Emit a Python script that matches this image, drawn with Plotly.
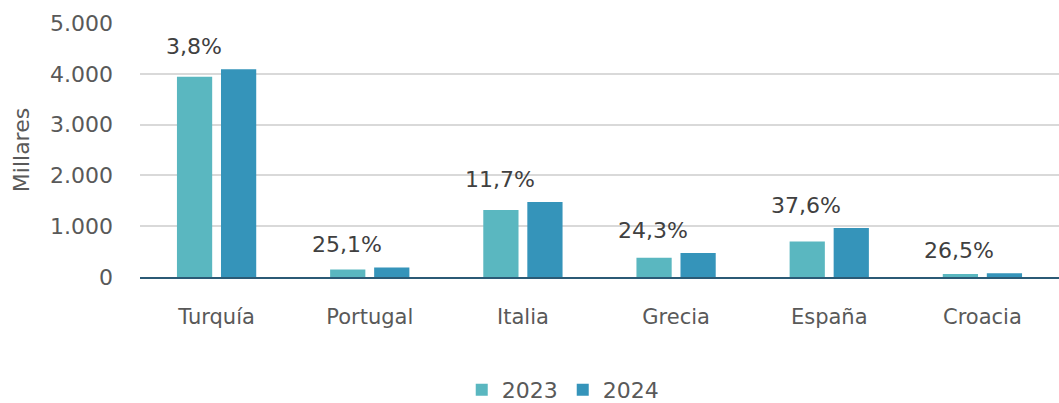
import plotly.graph_objects as go

categories = ["Turquía", "Portugal", "Italia", "Grecia", "España", "Croacia"]
values_2023 = [3940, 150, 1320, 380, 700, 60]
values_2024 = [4090, 188, 1475, 472, 963, 76]
growth_labels = ["3,8%", "25,1%", "11,7%", "24,3%", "37,6%", "26,5%"]
tick_vals = [0, 1000, 2000, 3000, 4000, 5000]
tick_text = ["0", "1.000", "2.000", "3.000", "4.000", "5.000"]

FONT = "DejaVu Sans"
GREY = "#595959"

fig = go.Figure()
fig.add_trace(go.Bar(name="2023", x=categories, y=values_2023, marker_color="#5AB7C0",
                     marker_line_width=0))
fig.add_trace(go.Bar(name="2024", x=categories, y=values_2024, marker_color="#3594BA",
                     marker_line_width=0))

for cat, v1, v2, lab in zip(categories, values_2023, values_2024, growth_labels):
    fig.add_annotation(x=cat, y=max(v1, v2), text=lab, showarrow=False,
                       xshift=-23, yshift=8, yanchor="bottom",
                       font=dict(family=FONT, size=22, color="#404040"))

fig.update_layout(
    width=1059, height=403,
    margin=dict(l=140, r=0, t=23, b=126, autoexpand=False),
    paper_bgcolor="white", plot_bgcolor="white",
    barmode="group", bargap=0.425, bargroupgap=0.2,
    font=dict(family=FONT, size=20, color=GREY),
    showlegend=True,
    legend=dict(orientation="h", x=0.46, xanchor="center", y=-0.445, yanchor="middle",
                font=dict(family=FONT, size=22, color=GREY), itemwidth=30,
                traceorder="normal"),
    xaxis=dict(showgrid=False, showline=True, linecolor="#2B5A75", linewidth=2,
               ticks="", ticklabelstandoff=20, automargin=False,
               tickfont=dict(size=21, color=GREY)),
    yaxis=dict(range=[0, 5000], tickvals=tick_vals, ticktext=tick_text,
               showgrid=True, gridcolor="#D9D9D9", gridwidth=2, zeroline=False,
               showline=False, ticks="", ticklabelstandoff=26, automargin=False,
               tickfont=dict(size=22, color=GREY),
               title=dict(text="Millares", font=dict(size=22, color=GREY), standoff=14)),
)

fig.write_html("out.html", config={"displayModeBar": False},
               post_script="document.body.style.margin='0';document.body.style.overflow='hidden';")
